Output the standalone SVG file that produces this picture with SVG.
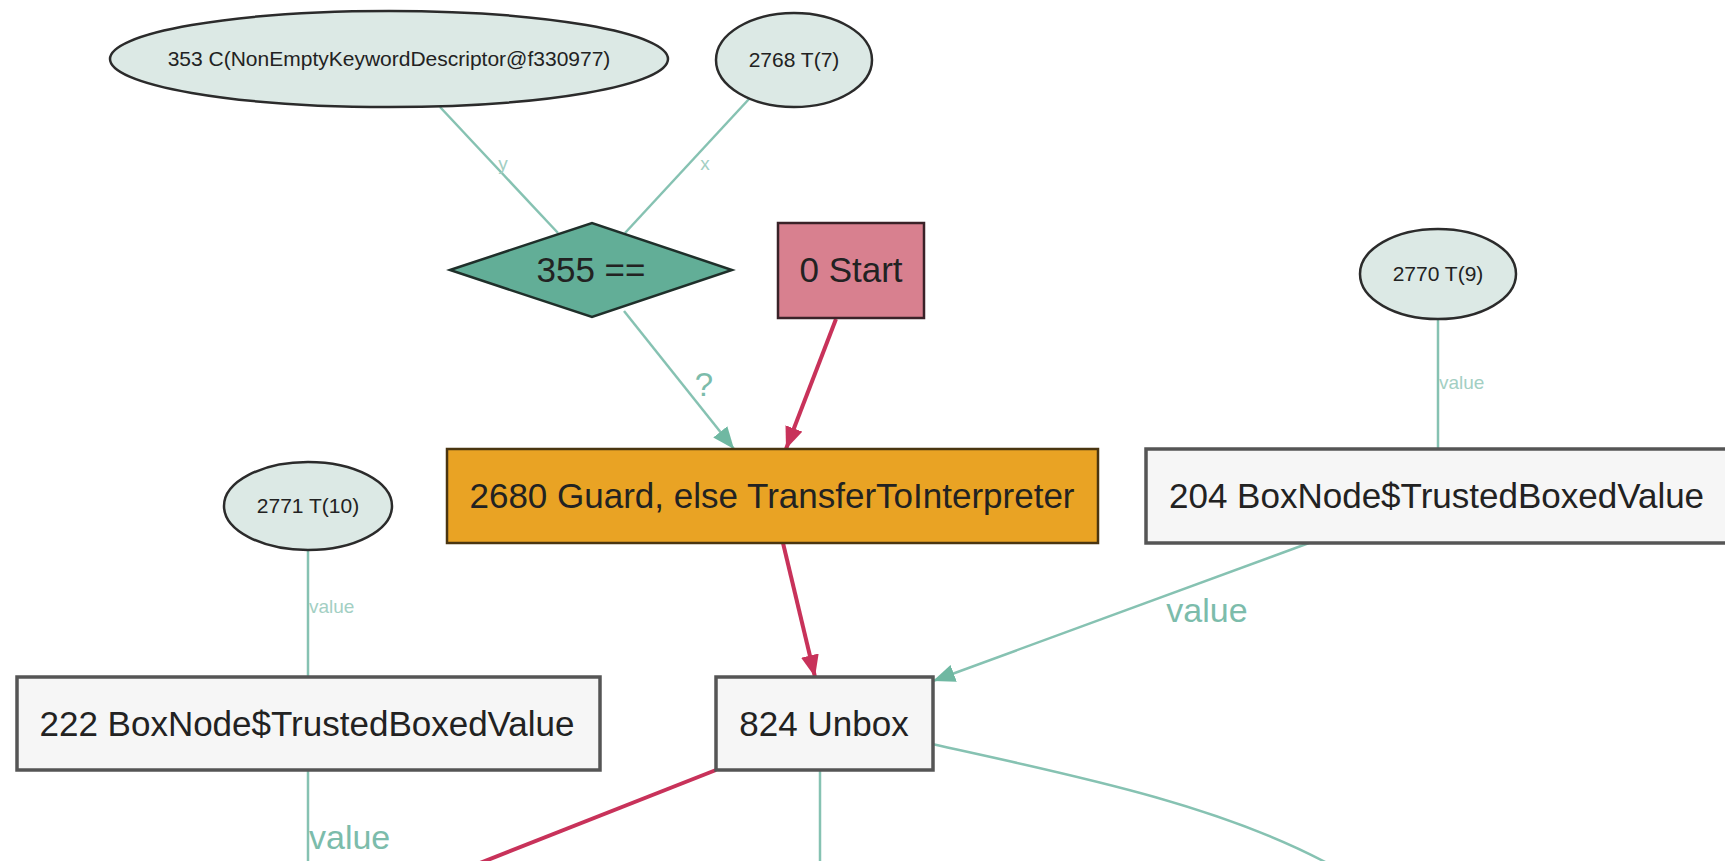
<svg xmlns="http://www.w3.org/2000/svg" width="1725" height="861" viewBox="0 0 1725 861">
<defs>
<style>
.t{font-family:"Liberation Sans",Arial,sans-serif;fill:#222;}
.small{font-size:21px;text-anchor:middle;}
.big{font-size:35px;}
.mid{text-anchor:middle;}
.ell{fill:#dce9e5;stroke:#2b2b2b;stroke-width:2.5;}
.box{fill:#f6f6f6;stroke:#555;stroke-width:3.5;}
.te{stroke:#86c2b2;stroke-width:2.5;fill:none;}
.re{stroke:#c8325a;stroke-width:4;fill:none;}
.lbl{font-family:"Liberation Sans",Arial,sans-serif;fill:#7cbcab;}
.lbls{font-family:"Liberation Sans",Arial,sans-serif;fill:#a3cfc3;font-size:19px;}
</style>
<marker id="at" markerUnits="userSpaceOnUse" markerWidth="24" markerHeight="18" refX="22" refY="9" orient="auto">
<path d="M0,0 L22,9 L0,18 z" fill="#6fb8a2"/>
</marker>
<marker id="ar" markerUnits="userSpaceOnUse" markerWidth="24" markerHeight="18" refX="22" refY="9" orient="auto">
<path d="M0,0 L22,9 L0,18 z" fill="#c8325a"/>
</marker>
</defs>
<rect width="1725" height="861" fill="#ffffff"/>
<g id="connectors">
<line class="te" x1="440" y1="107" x2="558" y2="233"/>
<line class="te" x1="749" y1="99" x2="625" y2="233"/>
<line class="te" x1="624" y1="311" x2="734" y2="449" marker-end="url(#at)"/>
<line class="re" x1="836" y1="319" x2="786" y2="449" marker-end="url(#ar)"/>
<line class="te" x1="1438" y1="319" x2="1438" y2="449"/>
<line class="te" x1="1309" y1="543" x2="933" y2="681" marker-end="url(#at)"/>
<line class="re" x1="783" y1="543" x2="815" y2="677" marker-end="url(#ar)"/>
<line class="te" x1="308" y1="550" x2="308" y2="677"/>
<line class="te" x1="308" y1="770" x2="308" y2="861"/>
<line class="re" x1="716" y1="770" x2="480" y2="863"/>
<line class="te" x1="820" y1="770" x2="820" y2="861"/>
<path class="te" d="M932,744 C1062,773 1215,803 1327,863"/>
<text class="lbls" x="503" y="170" font-size="17" text-anchor="middle">y</text>
<text class="lbls" x="705" y="170" font-size="17" text-anchor="middle">x</text>
<text class="lbl" x="704" y="396" font-size="33" text-anchor="middle">?</text>
<text class="lbls" x="1439" y="389">value</text>
<text class="lbl" x="1207" y="622" font-size="34" text-anchor="middle">value</text>
<text class="lbls" x="309" y="613">value</text>
<text class="lbl" x="309" y="849" font-size="34">value</text>
</g>
<g id="n353">
<ellipse class="ell" cx="389" cy="59" rx="279" ry="48"/>
<text class="t small" x="389" y="66">353 C(NonEmptyKeywordDescriptor@f330977)</text>
</g>
<g id="n2768">
<ellipse class="ell" cx="794" cy="60" rx="78" ry="47"/>
<text class="t small" x="794" y="67">2768 T(7)</text>
</g>
<g id="n355">
<polygon points="450,270 592,223 732,270 592,317" fill="#62ae97" stroke="#1f2f2a" stroke-width="2.5"/>
<text class="t big mid" x="591" y="282" fill="#1e3a32">355 ==</text>
</g>
<g id="n0">
<rect x="778" y="223" width="146" height="95" fill="#d8808f" stroke="#3a2228" stroke-width="2.5"/>
<text class="t big mid" x="851" y="282">0 Start</text>
</g>
<g id="n2770">
<ellipse class="ell" cx="1438" cy="274" rx="78" ry="45"/>
<text class="t small" x="1438" y="281">2770 T(9)</text>
</g>
<g id="n2680">
<rect x="447" y="449" width="651" height="94" fill="#e9a324" stroke="#4a3510" stroke-width="2.5"/>
<text class="t big mid" x="772" y="508">2680 Guard, else TransferToInterpreter</text>
</g>
<g id="n204">
<rect class="box" x="1146" y="449" width="590" height="94"/>
<text class="t big" x="1169" y="508">204 BoxNode$TrustedBoxedValue</text>
</g>
<g id="n2771">
<ellipse class="ell" cx="308" cy="506" rx="84" ry="44"/>
<text class="t small" x="308" y="513">2771 T(10)</text>
</g>
<g id="n222">
<rect class="box" x="17" y="677" width="583" height="93"/>
<text class="t big mid" x="307" y="736">222 BoxNode$TrustedBoxedValue</text>
</g>
<g id="n824">
<rect class="box" x="716" y="677" width="217" height="93"/>
<text class="t big mid" x="824" y="736">824 Unbox</text>
</g>
</svg>
